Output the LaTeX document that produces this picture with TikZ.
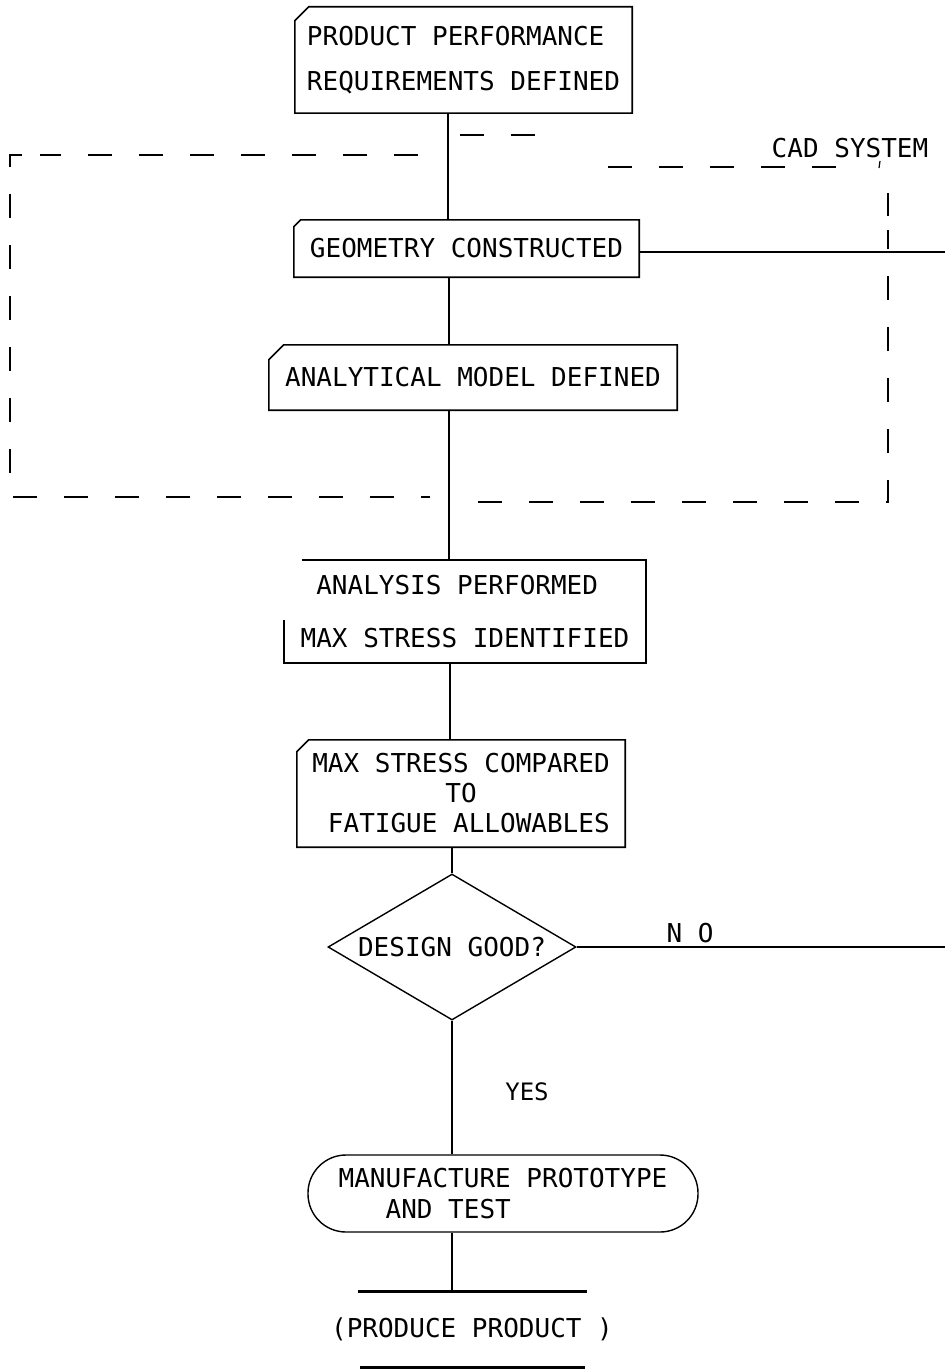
\documentclass[tikz,border=0pt]{standalone}
\usepackage{fontspec}
\setmonofont{DejaVu Sans Mono}
\usetikzlibrary{shapes.geometric,calc}
\tikzset{
  txt/.style={font=\ttfamily\fontsize{26}{30}\selectfont, inner sep=0pt, text=black},
  ln/.style={line width=1.6pt, draw=black},
  cadline/.style={line width=1.5pt, draw=black, dash pattern=on 24pt off 27pt},
  bar/.style={line width=3pt, draw=black},
}
\newcommand\chamferbox[2]{\draw[ln] ([yshift=-#2pt]#1.north west) -- ([xshift=#2pt]#1.north west) -- (#1.north east) -- (#1.south east) -- (#1.south west) -- cycle;}
\begin{document}
\begin{tikzpicture}[x=1pt,y=-1pt]
\useasboundingbox[fill=white] (0,0) rectangle (945,1370);

% nodes
\node[txt, minimum width=337pt, minimum height=106pt, align=left, font=\ttfamily\fontsize{26}{45}\selectfont] (req) at (463.5,60) {PRODUCT PERFORMANCE\\REQUIREMENTS DEFINED};
\chamferbox{req}{14}

\node[txt, minimum width=345pt, minimum height=57pt] (geo) at (466.5,248.5) {GEOMETRY CONSTRUCTED};
\chamferbox{geo}{7}

\node[txt, minimum width=408pt, minimum height=65pt] (ana) at (473,377.5) {ANALYTICAL MODEL DEFINED};
\chamferbox{ana}{15}

\node[txt, minimum width=362pt, minimum height=103pt, align=left, font=\ttfamily\fontsize{26}{53}\selectfont] (anl) at (465,611.5) {\phantom{X}ANALYSIS PERFORMED\\MAX STRESS IDENTIFIED};
\draw[ln] ([xshift=18pt]anl.north west) -- (anl.north east) -- (anl.south east) -- (anl.south west) -- ([yshift=43pt]anl.south west);

\node[txt, minimum width=328pt, minimum height=107pt, align=center] (cmp) at (461,793.5) {MAX STRESS COMPARED\\TO\\\phantom{X}FATIGUE ALLOWABLES};
\chamferbox{cmp}{12}

\node[txt, draw, line width=1.4pt, shape=diamond, aspect=1.7, minimum width=248pt, minimum height=146pt] (dia) at (452,947) {DESIGN GOOD?};

\node[txt, draw, line width=1.4pt, rounded corners=38pt, minimum width=390pt, minimum height=77pt, align=left, font=\ttfamily\fontsize{26}{31}\selectfont] (mfg) at (503,1193.5) {MANUFACTURE PROTOTYPE\\\phantom{XXX}AND TEST};

\node[txt, minimum height=75pt] (prod) at (472,1329.5) {(PRODUCE PRODUCT )};
\draw[bar] ([xshift=-114pt]prod.north) -- ([xshift=115pt]prod.north);
\draw[bar] ([xshift=-112pt]prod.south) -- ([xshift=113pt]prod.south);

% labels
\node[txt] (cad) at (850,148) {CAD SYSTEM};
\node[txt] (no) at (690,933) {N O};
\node[txt, font=\ttfamily\fontsize{24}{28}\selectfont] (yes) at (527,1092) {YES};

% connectors
\coordinate (sA) at (448,0);
\coordinate (sB) at (449,0);
\coordinate (sC) at (450,0);
\coordinate (exA) at (945,252);
\coordinate (exB) at (945,947);
\draw[ln] (req.south -| sA) -- (geo.north -| sA);
\draw[ln] (geo.south -| sB) -- (ana.north -| sB);
\draw[ln] (ana.south -| sB) -- (anl.north -| sB);
\draw[ln] (anl.south -| sC) -- (cmp.north -| sC);
\draw[ln] (cmp.south -| dia.north) -- (dia.north);
\draw[ln] (dia.south) -- (mfg.north -| dia.south);
\draw[ln] (mfg.south -| dia.south) -- (prod.north -| dia.south);
\draw[ln] (geo.east |- exA) -- (exA);
\draw[ln] (dia.east) -- (exB);

% CAD system dashed boundary
\draw[cadline] (22,155) -- (10,155) -- (10,497) -- (430,497);
\draw[cadline] (418,155) -- (40,155);
\draw[cadline] (460,135) -- (550,135);
\draw[cadline] (608,167) -- (860,167);
\draw[line width=1.2pt] (880,161) -- (879,168);
\draw[cadline] (478,502) -- (888,502) -- (888,230);
\draw[line width=1.5pt] (888,193) -- (888,216);
\end{tikzpicture}
\end{document}
